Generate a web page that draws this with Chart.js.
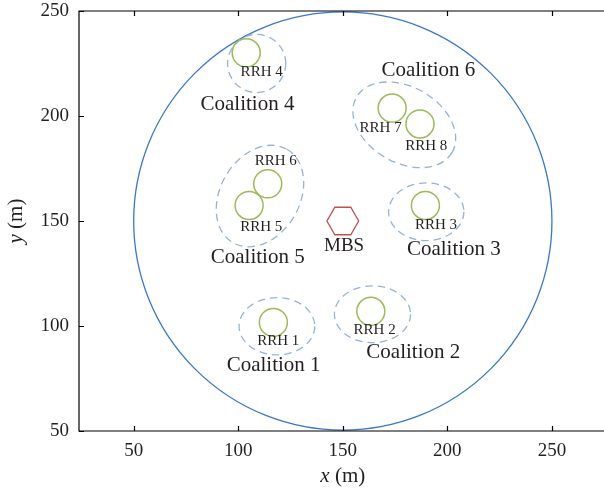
<!DOCTYPE html>
<html>
<head>
<meta charset="utf-8">
<script src="https://cdn.jsdelivr.net/npm/chart.js@4.4.1/dist/chart.umd.min.js"></script>
<style>
    html, body { margin: 0; padding: 0; background: #fff; }
    #wrap { width: 604px; height: 492px; }
</style>
</head>
<body>
<div id="wrap"><canvas id="chart" width="604" height="492"></canvas></div>
<script>
const xTicks = [50, 100, 150, 200, 250];
const yTicks = [50, 100, 150, 200, 250];

// macro base station and its coverage
const mbsPos = [150, 150];
const mbsSize = 7.6;
const mbsLabel = { text: 'MBS', x: 150.6, y: 138.2 };
const coverageRadius = 100;

// remote radio heads
const rrhNames = ['RRH 1', 'RRH 2', 'RRH 3', 'RRH 4', 'RRH 5', 'RRH 6', 'RRH 7', 'RRH 8'];
const rrhX = [116.8, 163.4, 189.5, 103.8, 105.2, 114.1, 173.6, 186.9];
const rrhY = [101.7, 107.0, 157.4, 230.1, 157.4, 167.7, 203.8, 196.2];
const rrhRadius = 6.7;
const rrhLabelX = [119.1, 165.2, 194.6, 111.2, 111.0, 117.9, 168.1, 189.9];
const rrhLabelY = [92.8, 98.0, 148.2, 221.0, 146.9, 178.7, 194.2, 185.8];

// coalitions (dashed ellipses)
const coalitionNames = ['Coalition 1', 'Coalition 2', 'Coalition 3', 'Coalition 4', 'Coalition 5', 'Coalition 6'];
const coalitionX = [118.5, 164.2, 189.9, 108.8, 110.4, 179.4];
const coalitionY = [99.9, 105.6, 154.4, 225.0, 161.9, 195.8];
const coalitionRx = [18.1, 18.2, 18.0, 13.9, 25.8, 26.4];
const coalitionRy = [13.7, 13.6, 13.8, 13.9, 19.0, 18.1];
const coalitionTilt = [0, 0, 0, 0, 60, -30];
const coalitionLabelX = [116.9, 183.7, 203.1, 104.4, 109.3, 190.9];
const coalitionLabelY = [81.3, 87.4, 136.3, 205.7, 132.4, 221.8];

const SERIF = '"Liberation Serif", "DejaVu Serif", serif';
const TEXT = '#231f20';

function unitPx(chart) {
    const sx = chart.scales.x;
    return Math.abs(sx.getPixelForValue(1) - sx.getPixelForValue(0));
}

function drawEllipse(chart, cx, cy, rx, ry, tiltDeg) {
    const { ctx, scales } = chart;
    const s = unitPx(chart);
    ctx.beginPath();
    ctx.ellipse(scales.x.getPixelForValue(cx), scales.y.getPixelForValue(cy),
        rx * s, ry * s, -tiltDeg * Math.PI / 180, 0, Math.PI * 2);
    ctx.stroke();
}

const shapesPlugin = {
    id: 'shapes',
    beforeDatasetsDraw(chart) {
        const { ctx, scales } = chart;
        ctx.save();
        // coverage circle
        ctx.strokeStyle = '#3a78c4';
        ctx.lineWidth = 1.3;
        drawEllipse(chart, mbsPos[0], mbsPos[1], coverageRadius, coverageRadius, 0);

        // coalitions
        ctx.strokeStyle = '#95b3d7';
        ctx.lineWidth = 1.3;
        ctx.setLineDash([7.5, 5]);
        coalitionX.forEach((cx, i) => {
            drawEllipse(chart, cx, coalitionY[i], coalitionRx[i], coalitionRy[i], coalitionTilt[i]);
        });
        ctx.setLineDash([]);

        // MBS hexagon
        const s = unitPx(chart);
        const px = scales.x.getPixelForValue(mbsPos[0]);
        const py = scales.y.getPixelForValue(mbsPos[1]);
        ctx.strokeStyle = '#c0504d';
        ctx.lineWidth = 1.3;
        ctx.beginPath();
        for (let k = 0; k < 6; k++) {
            const a = k * Math.PI / 3;
            const vx = px + mbsSize * s * Math.cos(a);
            const vy = py + mbsSize * s * Math.sin(a);
            if (k === 0) ctx.moveTo(vx, vy); else ctx.lineTo(vx, vy);
        }
        ctx.closePath();
        ctx.stroke();
        ctx.restore();
    },
    afterDraw(chart) {
        const { ctx, scales, chartArea } = chart;
        const { left, right, top, bottom } = chartArea;
        ctx.save();
        ctx.fillStyle = TEXT;
        ctx.textAlign = 'center';
        ctx.textBaseline = 'middle';

        ctx.font = '15px ' + SERIF;
        rrhNames.forEach((name, i) => {
            ctx.fillText(name, scales.x.getPixelForValue(rrhLabelX[i]), scales.y.getPixelForValue(rrhLabelY[i]));
        });
        ctx.font = '21px ' + SERIF;
        coalitionNames.forEach((name, i) => {
            ctx.fillText(name, scales.x.getPixelForValue(coalitionLabelX[i]), scales.y.getPixelForValue(coalitionLabelY[i]));
        });
        ctx.font = '19px ' + SERIF;
        ctx.fillText(mbsLabel.text, scales.x.getPixelForValue(mbsLabel.x), scales.y.getPixelForValue(mbsLabel.y));

        // axes box (right side falls just outside the picture) with inward ticks
        ctx.strokeStyle = '#000';
        ctx.lineWidth = 1.2;
        ctx.beginPath();
        ctx.moveTo(right + 5, top);
        ctx.lineTo(left, top);
        ctx.lineTo(left, bottom);
        ctx.lineTo(right + 5, bottom);
        xTicks.forEach((v) => {
            const p = Math.round(scales.x.getPixelForValue(v)) + 0.5;
            ctx.moveTo(p, bottom); ctx.lineTo(p, bottom - 5);
            ctx.moveTo(p, top); ctx.lineTo(p, top + 5);
        });
        yTicks.forEach((v) => {
            const p = Math.round(scales.y.getPixelForValue(v)) + 0.5;
            ctx.moveTo(left, p); ctx.lineTo(left + 5, p);
        });
        ctx.stroke();

        // axis titles: italic variable + " (m)"
        const drawTitle = (varName, cx, cy, rot) => {
            ctx.save();
            ctx.translate(cx, cy);
            ctx.rotate(rot);
            ctx.font = 'italic 21px ' + SERIF;
            const w1 = ctx.measureText(varName).width;
            ctx.font = '21px ' + SERIF;
            const w2 = ctx.measureText(' (m)').width;
            const x0 = -(w1 + w2) / 2;
            ctx.textAlign = 'left';
            ctx.font = 'italic 21px ' + SERIF;
            ctx.fillText(varName, x0, 0);
            ctx.font = '21px ' + SERIF;
            ctx.fillText(' (m)', x0 + w1, 0);
            ctx.restore();
        };
        drawTitle('x', scales.x.getPixelForValue(150), 476, 0);
        drawTitle('y', 16, (top + bottom) / 2, -Math.PI / 2);
        ctx.restore();
    },
};

new Chart(document.getElementById('chart'), {
    type: 'scatter',
    data: {
        datasets: [{
            label: 'RRH',
            data: rrhX.map((x, i) => ({ x, y: rrhY[i] })),
            pointRadius: (c) => rrhRadius * unitPx(c.chart),
            pointHoverRadius: (c) => rrhRadius * unitPx(c.chart),
            pointBorderColor: '#9bbb59',
            pointBackgroundColor: 'rgba(0,0,0,0)',
            pointBorderWidth: 1.5,
            pointHoverBorderWidth: 1.5,
            showLine: false,
        }],
    },
    options: {
        responsive: false,
        animation: false,
        events: [],
        layout: { padding: { top: 11, right: 0, left: 0, bottom: 0 } },
        plugins: { legend: { display: false }, tooltip: { enabled: false } },
        scales: {
            x: {
                type: 'linear',
                min: 23.85,
                max: 274.9,
                afterBuildTicks: (scale) => { scale.ticks = xTicks.map((v) => ({ value: v })); },
                afterFit: (scale) => { scale.height = 61; scale.paddingLeft = 0; scale.paddingRight = 0; },
                grid: { display: false, drawTicks: false },
                border: { display: false },
                ticks: { color: TEXT, font: { family: SERIF, size: 19 }, padding: 9 },
            },
            y: {
                type: 'linear',
                min: 50,
                max: 250,
                afterBuildTicks: (scale) => { scale.ticks = yTicks.map((v) => ({ value: v })); },
                afterFit: (scale) => { scale.width = 79; scale.paddingTop = 0; scale.paddingBottom = 0; },
                grid: { display: false, drawTicks: false },
                border: { display: false },
                ticks: { color: TEXT, font: { family: SERIF, size: 19 }, padding: 10 },
            },
        },
    },
    plugins: [shapesPlugin],
});
</script>
</body>
</html>
